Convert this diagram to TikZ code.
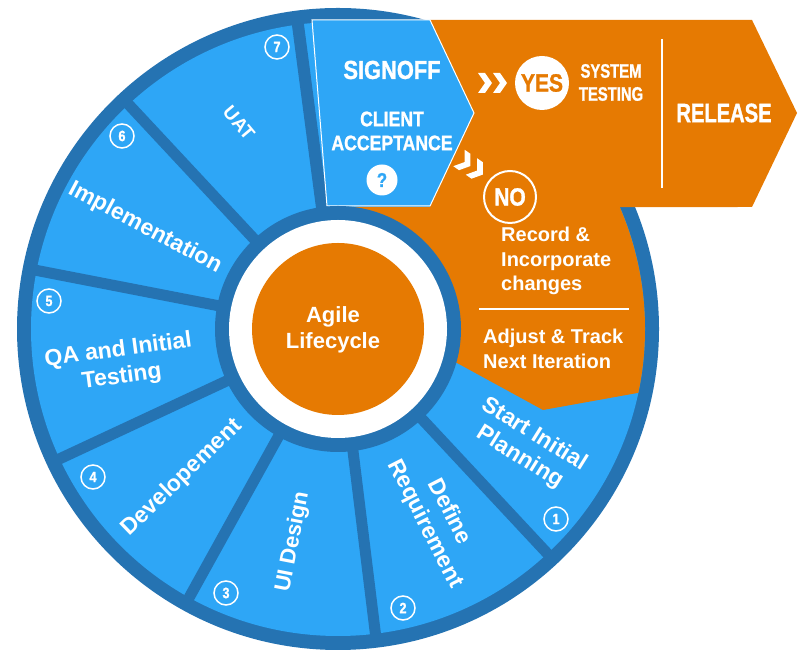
\documentclass[tikz,border=0pt]{standalone}
\usepackage{fontspec}
\setmainfont{Liberation Sans}
\newfontfamily\condA[FakeStretch=0.84,FakeBold=1.2]{Liberation Sans Bold}
\newfontfamily\condB[FakeStretch=0.76,FakeBold=1.2]{Liberation Sans Bold}
\usetikzlibrary{calc}
\definecolor{ltblue}{HTML}{2EA6F6}
\definecolor{dkblue}{HTML}{2573B2}
\definecolor{orng}{HTML}{E67A02}
\begin{document}
\begin{tikzpicture}[x=1pt,y=1pt,
  lbl/.style={text=white,font=\bfseries\fontsize{23}{27}\selectfont,align=center,inner sep=0pt},
  numc/.style={circle,draw=white,line width=1.5pt,minimum size=24pt,inner sep=0pt,text=white,font=\condA\fontsize{15}{15}\selectfont},
  wtxt/.style={text=white,inner sep=0pt,align=left},
  chevpic/.pic={\fill[white] (0,10) -- (7,10) -- (14,0) -- (7,-10) -- (0,-10) -- (7,0) -- cycle;}]
\useasboundingbox (0,0) rectangle (802,652);
\coordinate (C) at (338,323);
% wheel
\fill[dkblue] (C) circle (321pt);
\fill[ltblue] (C) circle (307pt);
\foreach \a in {133,169,205,241,277,313}
  \draw[dkblue,line width=11pt] (C) -- ++(\a:312pt);
\draw[dkblue,line width=12pt] (C) -- ++(97.5:312pt);
% orange region and arrow
\fill[orng] (457,289) -- (543,242) -- ($(C)+(-12:307pt)$)
  arc[start angle=-12,end angle=23.4,radius=307pt]
  -- (752,445) -- (797,539) -- (752,632) -- (430,632) -- (430,445) -- (338,445) -- (C) -- cycle;
% signoff box
\filldraw[fill=ltblue,draw=white,line width=1pt] (312,632) -- (430,632) -- (474,539) -- (430,446) -- (327,446) -- cycle;
% hub
\fill[dkblue] (C) circle (123pt);
\fill[white] (C) circle (109pt);
\fill[orng] (C) circle (86pt);
\node[lbl,font=\bfseries\fontsize{22}{26}\selectfont] (hub) at (333,322) {Agile\\Lifecycle};
% separator lines
\draw[white,line width=2pt] (662,613) -- (662,464);
\draw[white,line width=2pt] (479,343) -- (629,343);
% wheel labels
\node[lbl,rotate=-32] (s1) at (527,206) {Start Initial\\Planning};
\node[lbl,rotate=-63] (s2) at (437,134) {Define\\Requirement};
\node[lbl,rotate=79,font=\bfseries\fontsize{22}{26}\selectfont] (s3) at (293,110) {UI Design};
\node[lbl,rotate=44] (s4) at (182,174) {Developement};
\node[lbl,rotate=7.5] (s5) at (120,288) {QA and Initial\\Testing};
\node[lbl,rotate=-28] (s6) at (145,424) {Implementation};
\node[lbl,rotate=-50,font=\bfseries\fontsize{19}{22}\selectfont] (s7) at (239,529) {UAT};
% numbers
\node[numc] (n1) at (556,133) {1};
\node[numc] (n2) at (403,44) {2};
\node[numc] (n3) at (226,59) {3};
\node[numc] (n4) at (93,175) {4};
\node[numc] (n5) at (49,351) {5};
\node[numc] (n6) at (122,516) {6};
\node[numc] (n7) at (277,605) {7};
% signoff texts
\node[lbl,font=\condA\fontsize{26}{30}\selectfont] (sig) at (392,582) {SIGNOFF};
\node[lbl,font=\condA\fontsize{21}{24}\selectfont] (cli) at (392,521) {CLIENT\\ACCEPTANCE};
\node[circle,fill=white,minimum size=31pt,inner sep=0pt,text=ltblue,font=\condA\fontsize{20}{20}\selectfont] (q) at (382,472) {?};
% yes branch
\pic at (478,569) {chevpic};
\pic at (493,569) {chevpic};
\node[circle,fill=white,minimum size=54pt,inner sep=0pt,text=orng,font=\condA\fontsize{25}{25}\selectfont] (yes) at (542,569) {YES};
\node[lbl,font=\condB\fontsize{19.5}{23}\selectfont] (sys) at (611,569.5) {SYSTEM\\TESTING};
\node[lbl,font=\condB\fontsize{26.5}{30}\selectfont] (rel) at (724,539) {RELEASE};
% no branch
\pic[rotate=-35] at (459,494) {chevpic};
\pic[rotate=-35] at (471.5,485.5) {chevpic};
\node[circle,draw=white,line width=2pt,minimum size=52pt,inner sep=0pt,text=white,font=\condA\fontsize{25}{25}\selectfont] (no) at (510,455) {NO};
\node[wtxt,anchor=west,font=\bfseries\fontsize{20}{24.5}\selectfont] (rec) at (501,391) {Record \&\\Incorporate\\changes};
\node[wtxt,anchor=west,font=\bfseries\fontsize{20}{25}\selectfont] (adj) at (483,303.5) {Adjust \& Track\\Next Iteration};
\end{tikzpicture}
\end{document}
